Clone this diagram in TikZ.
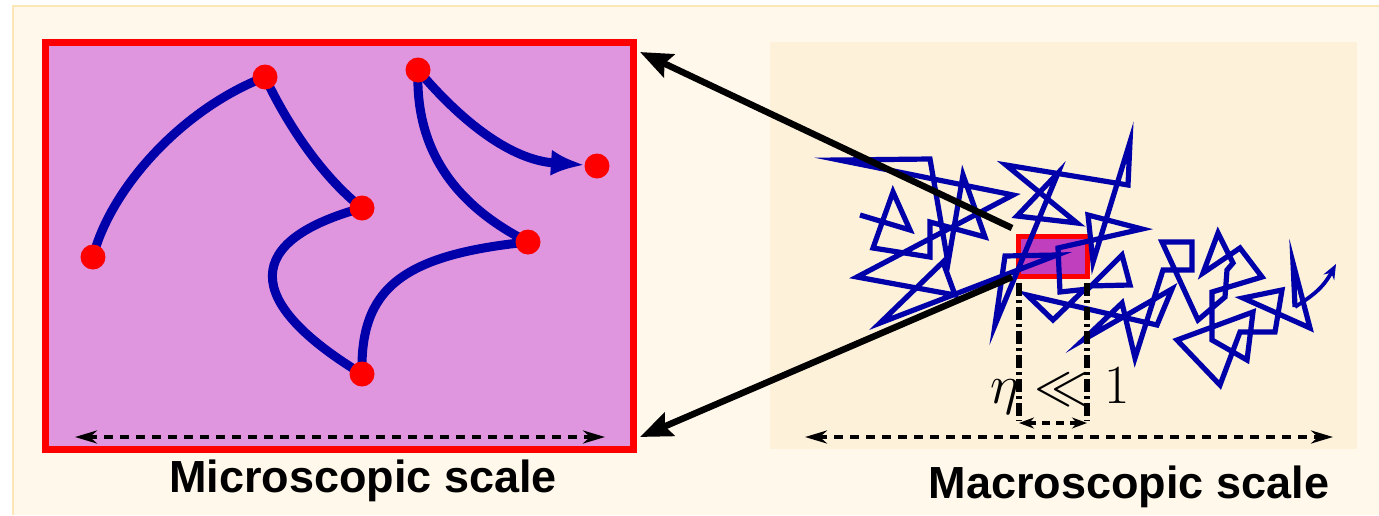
\documentclass[tikz,border=0pt]{standalone}
\usepackage{fontspec}
\setsansfont{Liberation Sans}
\usetikzlibrary{arrows.meta}
\definecolor{outerbg}{HTML}{FFF8EB}
\definecolor{outerbd}{HTML}{FDE6B5}
\definecolor{panelbg}{HTML}{FDF1DA}
\definecolor{microfill}{HTML}{DF96DF}
\definecolor{walkblue}{HTML}{0000AA}
\definecolor{boxfill}{HTML}{BF3FBF}
\tikzset{
  dotnode/.style={circle, fill=red, minimum size=25pt, inner sep=0pt},
  microline/.style={draw=walkblue, line width=9pt},
  walkline/.style={draw=walkblue, line width=5.2pt, line join=miter},
  bigarrow/.style={draw=black, line width=6.5pt, -{Stealth[length=32pt,width=25pt,inset=5pt]}},
  scalearrow/.style={draw=black, line width=4pt, dash pattern=on 9pt off 7pt, {Stealth[length=22pt,width=13pt]}-{Stealth[length=22pt,width=13pt]}},
  dashdotline/.style={draw=black, line width=5.5pt, dash pattern=on 13pt off 4pt on 3pt off 4pt},
  scalelabel/.style={font=\sffamily\bfseries\fontsize{45}{54}\selectfont, anchor=base, inner sep=0pt},
}
\begin{document}
\begin{tikzpicture}[x=1pt,y=-1pt]
\useasboundingbox (0,0) rectangle (1379,515);
\fill[white] (0,0) rectangle (1379,515);
\fill[outerbg] (13,6) rectangle (1379,515);
\draw[outerbd, line width=2pt] (13,515) -- (13,6) -- (1379,6);
\fill[panelbg] (770,42) rectangle (1357,449);

% microscopic box
\node[draw=red, fill=microfill, line width=7pt, minimum width=588pt, minimum height=407pt, inner sep=0pt] (micro) at (339,245.5) {};
\coordinate (c1) at (93,257);
\coordinate (c2) at (265,77);
\coordinate (c3) at (362,208);
\coordinate (c4) at (362,374);
\coordinate (c5) at (528,242);
\coordinate (c6) at (418,70);
\coordinate (c7) at (597,166);
\coordinate (c7tip) at (585,165);
\draw[microline] (c1) .. controls (110,190) and (180,110) .. (c2);
\draw[microline] (c2) .. controls (285,120) and (320,175) .. (c3);
\draw[microline] (c3) .. controls (245,240) and (240,300) .. (c4);
\draw[microline] (c4) .. controls (360,290) and (400,255) .. (c5);
\draw[microline] (c5) .. controls (455,205) and (415,150) .. (c6);
\draw[microline, -{Latex[length=34pt,width=26pt]}] (c6) .. controls (460,120) and (510,160) .. (c7tip);
\node[dotnode] (p1) at (c1) {};
\node[dotnode] (p2) at (c2) {};
\node[dotnode] (p3) at (c3) {};
\node[dotnode] (p4) at (c4) {};
\node[dotnode] (p5) at (c5) {};
\node[dotnode] (p6) at (c6) {};
\node[dotnode] (p7) at (c7) {};
\coordinate (ml) at (75,437);
\coordinate (mr) at (605,437);
\draw[scalearrow] (ml) -- (mr);

% macroscopic panel
\node[draw=red, fill=boxfill, line width=5.5pt, minimum width=69pt, minimum height=40pt, inner sep=0pt] (mbox) at (1053,256.5) {};
\draw[walkline] (860,215) -- (910,230) -- (893,192) -- (873,248) -- (930,257) -- (930,222) -- (985,237) -- (963,175) -- (948,263) -- (930,159) -- (839,160) -- (1013,195) -- (857,277) -- (955,295) -- (943,262) -- (880,323) -- (1057,255) -- (1005,256) -- (995,325) -- (1058,173) -- (1017,216) -- (1077,223) -- (1006,165) -- (1128,185) -- (1130,142) -- (1093,262) -- (1088,215) -- (1142,229) -- (1058,248) -- (1060,292) -- (1088,289) -- (1122,255) -- (1130,285) -- (1088,286) -- (1053,320) -- (1027,295) -- (1157,325) -- (1172,289) -- (1083,340) -- (1122,303) -- (1135,358) -- (1163,270) -- (1192,270) -- (1192,242) -- (1162,242) -- (1198,320) -- (1225,297) -- (1227,270) -- (1233,263) -- (1218,233) -- (1203,273) -- (1240,248) -- (1262,277) -- (1212,292) -- (1212,340) -- (1247,360) -- (1253,312) -- (1177,340) -- (1220,385) -- (1240,332) -- (1275,332) -- (1282,290) -- (1243,298) -- (1310,328) -- (1293,263) -- (1295,307);
\coordinate (wlast) at (1295,307);
\coordinate (wend) at (1336,264);
\draw[walkline, line width=3.8pt, -{Stealth[length=15pt,width=12pt]}] (wlast) .. controls (1310,297) and (1322,290) .. (wend);

\coordinate (dl1) at (1019,283);
\coordinate (dl2) at (1019,421);
\coordinate (dr1) at (1087,283);
\coordinate (dr2) at (1087,421);
\draw[dashdotline] (dl1) -- (dl2);
\draw[dashdotline] (dr1) -- (dr2);
\coordinate (el) at (1019,423);
\coordinate (er) at (1087,423);
\draw[draw=black, line width=3.8pt, dash pattern=on 8pt off 6pt, {Stealth[length=15pt,width=11pt]}-{Stealth[length=15pt,width=11pt]}] (el) -- (er);
\node[anchor=base, inner sep=0pt] (eta) at (1060,403) {\scalebox{2.22}{\Huge$\eta\ll 1$}};
\coordinate (Ml) at (805,437);
\coordinate (Mr) at (1333,437);
\draw[scalearrow] (Ml) -- (Mr);

% zoom arrows
\coordinate (upstart) at (1012,228);
\coordinate (uptip) at (640,52);
\coordinate (lowstart) at (1012,277);
\coordinate (lowtip) at (640,437);
\draw[bigarrow] (upstart) -- (uptip);
\draw[bigarrow] (lowstart) -- (lowtip);

\node[scalelabel] (microlabel) at (363,492) {Microscopic scale};
\node[scalelabel] (macrolabel) at (1129,498) {Macroscopic scale};
\end{tikzpicture}
\end{document}
